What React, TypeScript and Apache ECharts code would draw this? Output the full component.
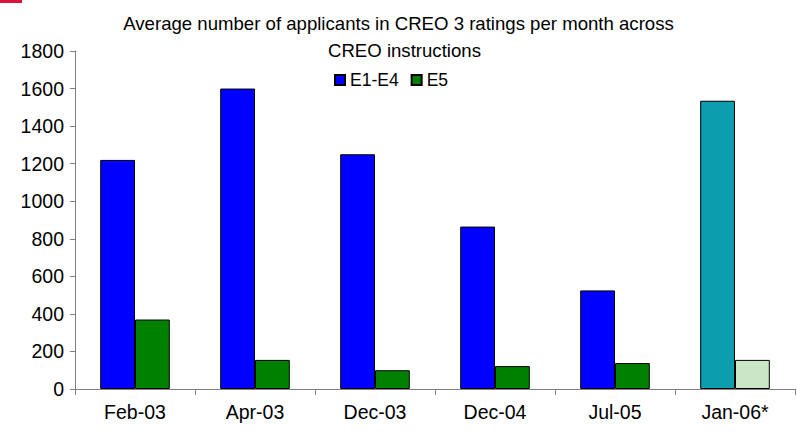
import React, { useEffect, useRef } from "react";
import * as echarts from "echarts";

const categories = ["Feb-03", "Apr-03", "Dec-03", "Dec-04", "Jul-05", "Jan-06*"];
const e1e4Values = [1220, 1600, 1250, 865, 525, 1535];
const e5Values = [370, 155, 100, 122, 138, 155];
const yTicks = [0, 200, 400, 600, 800, 1000, 1200, 1400, 1600, 1800];
const titleLine1 = "Average number of applicants in CREO 3 ratings per month across";
const titleLine2 = "CREO instructions";

const FONT = "'Liberation Sans', Arial, sans-serif";

export default function App() {
  const ref = useRef<HTMLDivElement>(null);

  useEffect(() => {
    if (!ref.current) return;
    const chart = echarts.init(ref.current, null, { renderer: "svg" });
    const last = categories.length - 1;
    const blueData = e1e4Values.map((v, i) =>
      i === last ? { value: v, itemStyle: { color: "#0C9DAE" } } : v
    );
    const greenData = e5Values.map((v, i) =>
      i === last ? { value: v, itemStyle: { color: "#CBE6C6" } } : v
    );
    chart.setOption({
      animation: false,
      backgroundColor: "#ffffff",
      textStyle: { fontFamily: FONT },
      title: [
        {
          text: titleLine1,
          left: "center",
          top: 9,
          textStyle: { fontSize: 18.6, fontWeight: "normal", color: "#000", fontFamily: FONT },
        },
        {
          text: titleLine2,
          left: 323,
          top: 36,
          textStyle: { fontSize: 18.6, fontWeight: "normal", color: "#000", fontFamily: FONT },
        },
      ],
      legend: {
        left: 329,
        top: 66,
        itemWidth: 10,
        itemHeight: 10,
        itemGap: 12,
        icon: "rect",
        textStyle: { fontSize: 17.5, color: "#000", fontFamily: FONT },
        data: ["E1-E4", "E5"],
      },
      grid: { left: 75, right: 2, top: 51, bottom: 43, containLabel: false },
      xAxis: {
        type: "category",
        data: categories,
        axisLine: { show: true, lineStyle: { color: "#808080", width: 1 } },
        axisTick: { show: true, length: 6, alignWithLabel: false, lineStyle: { color: "#808080" } },
        axisLabel: { fontSize: 19.5, color: "#000", margin: 13, fontFamily: FONT },
        splitLine: { show: false },
      },
      yAxis: {
        type: "value",
        min: yTicks[0],
        max: yTicks[yTicks.length - 1],
        interval: 200,
        axisLine: { show: true, lineStyle: { color: "#808080", width: 1 } },
        axisTick: { show: true, length: 5, lineStyle: { color: "#808080" } },
        axisLabel: {
          fontSize: 19.5,
          color: "#000",
          margin: 11,
          fontFamily: FONT,
          formatter: (v: number) => String(v),
        },
        splitLine: { show: false },
      },
      series: [
        {
          name: "E1-E4",
          type: "bar",
          data: blueData,
          barGap: "0%",
          barCategoryGap: "42%",
          itemStyle: { color: "#0000FF", borderColor: "#000", borderWidth: 1 },
        },
        {
          name: "E5",
          type: "bar",
          data: greenData,
          barGap: "0%",
          barCategoryGap: "42%",
          itemStyle: { color: "#008000", borderColor: "#000", borderWidth: 1 },
        },
      ],
      graphic: [
        {
          type: "line",
          shape: { x1: 0, y1: 1.5, x2: 22, y2: 1.5 },
          style: { stroke: "#D8143A", lineWidth: 3 },
        },
      ],
    });
    return () => chart.dispose();
  }, []);

  return (
    <div
      ref={ref}
      style={{ position: "fixed", left: 0, top: 0, width: 797, height: 432 }}
    />
  );
}
